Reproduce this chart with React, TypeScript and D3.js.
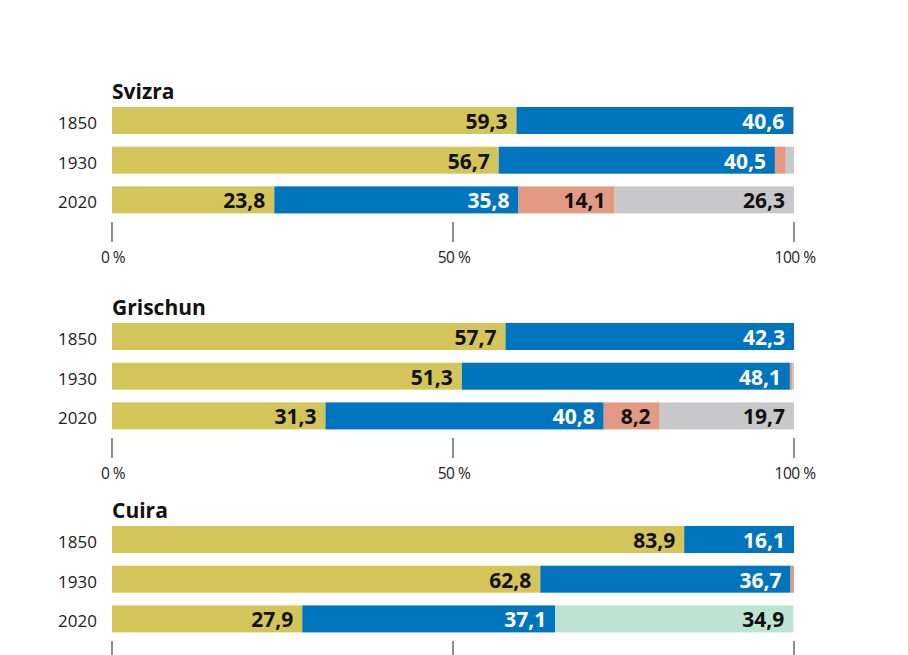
import React from "react";
import * as d3 from "d3";

const regions = ["Svizra", "Grischun", "Cuira"];
const years = ["1850", "1930", "2020"];
const categories = ["reformed", "catholic", "other", "none", "otherNone"];
const categoryColors = ["#D4C55A", "#0075BE", "#E29A85", "#C8C8CA", "#BDE3D3"];
const labelColors = ["#111", "#fff", "#111", "#111", "#111"];

// values per region, per year: [reformed, catholic, other, none, otherNone]
const svizraValues = [
  [59.3, 40.6, 0.1, 0, 0],
  [56.7, 40.5, 1.6, 1.2, 0],
  [23.8, 35.8, 14.1, 26.3, 0],
];
const grischunValues = [
  [57.7, 42.3, 0, 0, 0],
  [51.3, 48.1, 0.3, 0.3, 0],
  [31.3, 40.8, 8.2, 19.7, 0],
];
const cuiraValues = [
  [83.9, 16.1, 0, 0, 0],
  [62.8, 36.7, 0.5, 0, 0],
  [27.9, 37.1, 0, 0, 34.9],
];
const regionValues = [svizraValues, grischunValues, cuiraValues];
const tickValues = [0, 50, 100];

const panelTops = [107, 323, 526];
const FONT = "'Open Sans', 'DejaVu Sans', sans-serif";

function fmt(v: number) {
  return v.toFixed(1).replace(".", ",");
}

export default function App() {
  const width = 908;
  const height = 655;
  const x = d3.scaleLinear().domain([0, 100]).range([112, 794]);

  return (
    <svg width={width} height={height} style={{ display: "block", position: "absolute", left: 0, top: 0 }}>
      <rect width={width} height={height} fill="#fff" />
      {regions.map((region, ri) => {
        const top = panelTops[ri];
        const y = d3
          .scaleBand<string>()
          .domain(years)
          .range([top, top + 2 * 39.7 + 27])
          .paddingInner(0.32)
          .paddingOuter(0);
        const values = regionValues[ri];
        return (
          <g key={region}>
            <text x={112} y={top - 8} fontFamily={FONT} fontWeight={700} fontSize={21} fill="#111">
              {region}
            </text>
            {years.map((yr, yi) => {
              const row = values[yi];
              let acc = 0;
              const by = y(yr)!;
              const bh = y.bandwidth();
              return (
                <g key={yr}>
                  <text
                    x={97}
                    y={by + 22}
                    textAnchor="end"
                    fontFamily={FONT}
                    fontSize={17}
                    fill="#222"
                  >
                    {yr}
                  </text>
                  {row.map((v, ci) => {
                    const x0 = x(acc);
                    acc += v;
                    const x1 = x(acc);
                    if (v <= 0) return null;
                    return (
                      <g key={ci}>
                        <rect x={x0} y={by} width={x1 - x0} height={bh} fill={categoryColors[ci]} />
                        {v >= 5 && (
                          <text
                            x={x1 - 9}
                            y={by + 22}
                            textAnchor="end"
                            fontFamily={FONT}
                            fontWeight={700}
                            fontSize={21}
                            fill={labelColors[ci]}
                          >
                            {fmt(v)}
                          </text>
                        )}
                      </g>
                    );
                  })}
                </g>
              );
            })}
            {tickValues.map((t) => (
              <g key={t}>
                <line
                  x1={x(t)}
                  x2={x(t)}
                  y1={top + 115}
                  y2={Math.min(top + 135, height)}
                  stroke="#444"
                  strokeWidth={1.2}
                />
                {top + 156 < height && (
                  <text
                    x={x(t) + 1}
                    y={top + 156}
                    textAnchor="middle"
                    fontFamily={FONT}
                    fontSize={15.5}
                    fill="#222"
                    letterSpacing={-0.5}
                  >
                    {t} %
                  </text>
                )}
              </g>
            ))}
          </g>
        );
      })}
    </svg>
  );
}
